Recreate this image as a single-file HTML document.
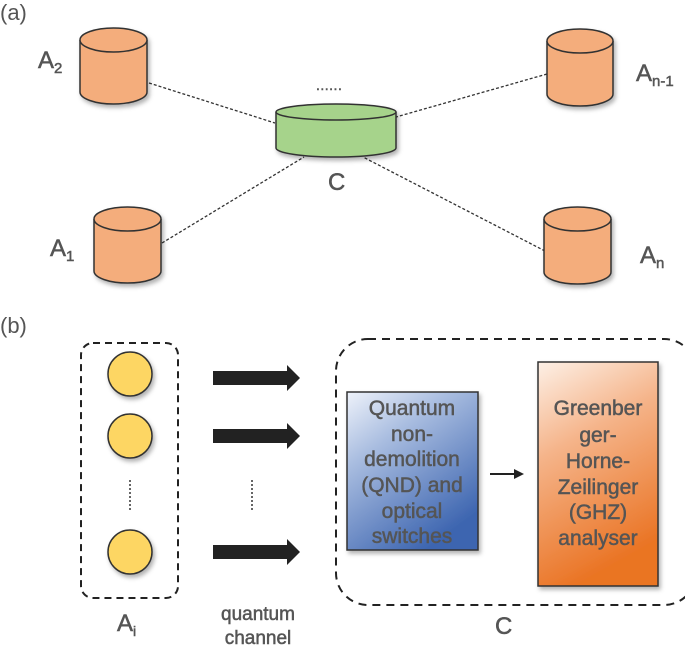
<!DOCTYPE html>
<html><head><meta charset="utf-8"><style>
html,body{margin:0;padding:0;background:#fff;}
svg{display:block;}
text{font-family:"Liberation Sans",sans-serif;fill:#555;}
.b{stroke:#555;stroke-width:0.5;}
</style></head><body>
<svg width="685" height="645" viewBox="0 0 685 645" xmlns="http://www.w3.org/2000/svg">
<defs>
<linearGradient id="gb" x1="0" y1="0" x2="0.6" y2="1">
<stop offset="0" stop-color="#eef2fa"/><stop offset="0.35" stop-color="#a9bde0"/><stop offset="1" stop-color="#3d65b0"/>
</linearGradient>
<linearGradient id="go" x1="0" y1="0" x2="0.3" y2="1">
<stop offset="0" stop-color="#fdf0e6"/><stop offset="0.4" stop-color="#f5b48a"/><stop offset="1" stop-color="#ea7424"/>
</linearGradient>
<filter id="sh" x="-10%" y="-10%" width="130%" height="130%"><feDropShadow dx="2" dy="3" stdDeviation="2" flood-color="#000" flood-opacity="0.3"/></filter>
</defs>
<text x="0" y="20" font-size="22">(a)</text>
<g stroke="#333" stroke-width="1.3" stroke-dasharray="3,2">
<line x1="149" y1="83" x2="275" y2="123"/>
<line x1="547" y1="74" x2="396" y2="117"/>
<line x1="162" y1="243" x2="304" y2="157"/>
<line x1="545" y1="251" x2="363" y2="157"/>
</g>
<g stroke="#333" stroke-width="1.5" filter="url(#sh)">
<g fill="#f4ad7c">
<path d="M80 40 V92 A33.5 12 0 0 0 147 92 V40"/><ellipse cx="113.5" cy="40" rx="33.5" ry="12"/>
<path d="M547 41 V94 A33 12 0 0 0 613 94 V41"/><ellipse cx="580" cy="41" rx="33" ry="12"/>
<path d="M94 219 V271 A33.5 12 0 0 0 161 271 V219"/><ellipse cx="127.5" cy="219" rx="33.5" ry="12"/>
<path d="M544 219 V272 A33.5 12 0 0 0 611 272 V219"/><ellipse cx="577.5" cy="219" rx="33.5" ry="12"/>
</g>
<g fill="#a6d38b">
<path d="M276 112 V148 A60 9 0 0 0 396 148 V112"/><ellipse cx="336" cy="112" rx="60" ry="8"/>
</g>
</g>
<text x="316" y="90" font-size="14" letter-spacing="0.5" class="b">......</text>
<text x="38" y="68" font-size="24" class="b">A<tspan font-size="15" dy="5">2</tspan></text>
<text x="636" y="81" font-size="24" class="b">A<tspan font-size="15" dy="5">n-1</tspan></text>
<text x="50" y="256" font-size="24" class="b">A<tspan font-size="15" dy="5">1</tspan></text>
<text x="640" y="263" font-size="24" class="b">A<tspan font-size="15" dy="5">n</tspan></text>
<text x="328" y="190" font-size="24" class="b">C</text>
<text x="0" y="333" font-size="22">(b)</text>
<rect x="81" y="343" width="97" height="255" rx="12" fill="none" stroke="#222" stroke-width="2" stroke-dasharray="7,5"/>
<rect x="336" y="339" width="360" height="266" rx="32" fill="none" stroke="#222" stroke-width="2" stroke-dasharray="8,6"/>
<g fill="#fdd663" stroke="#333" stroke-width="1.5" filter="url(#sh)">
<circle cx="130" cy="374" r="22"/><circle cx="130" cy="436" r="22"/><circle cx="130" cy="552" r="22"/>
</g>
<g stroke="#666" stroke-width="2" stroke-dasharray="2,2">
<line x1="130" y1="480" x2="130" y2="512"/><line x1="252" y1="480" x2="252" y2="512"/>
</g>
<g fill="#222">
<path d="M213 371 H287 V365 L300 378 L287 391 V385 H213Z"/>
<path d="M213 429 H287 V423 L300 436 L287 449 V443 H213Z"/>
<path d="M213 545 H287 V539 L300 552 L287 565 V559 H213Z"/>
</g>
<rect x="347" y="392" width="131" height="158" fill="url(#gb)" stroke="#333" stroke-width="1.5" filter="url(#sh)"/>
<rect x="538" y="362" width="120" height="224" fill="url(#go)" stroke="#333" stroke-width="1.5" filter="url(#sh)"/>
<line x1="490" y1="474" x2="516" y2="474" stroke="#222" stroke-width="2"/>
<path d="M514 469 L524 474 L514 479Z" fill="#222"/>
<g font-size="21" text-anchor="middle" class="b">
<text x="412" y="415">Quantum</text>
<text x="412" y="441">non-</text>
<text x="412" y="466">demolition</text>
<text x="412" y="492">(QND) and</text>
<text x="412" y="518">optical</text>
<text x="412" y="543">switches</text>
<text x="598" y="415">Greenber</text>
<text x="598" y="442">ger-</text>
<text x="598" y="468">Horne-</text>
<text x="598" y="494">Zeilinger</text>
<text x="598" y="519">(GHZ)</text>
<text x="598" y="545">analyser</text>
<text x="258" y="620" font-size="19">quantum</text>
<text x="258" y="644" font-size="19">channel</text>
</g>
<text x="117" y="631" font-size="24" class="b">A<tspan font-size="14" dy="5">i</tspan></text>
<text x="495" y="634" font-size="24" class="b">C</text>
</svg>
</body></html>
